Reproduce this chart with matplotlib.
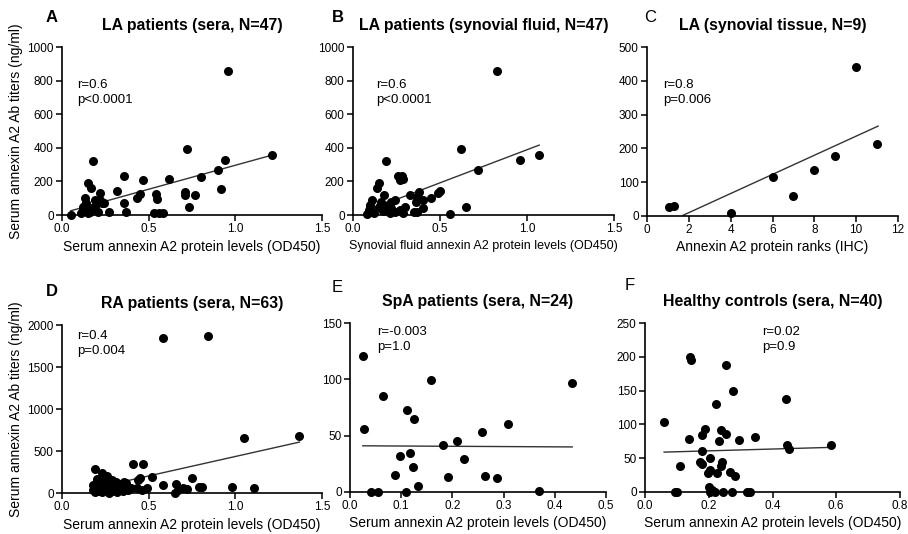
import numpy as np
import matplotlib
matplotlib.use("Agg")
import matplotlib.pyplot as plt

plt.rcParams['font.family'] = ['Liberation Sans', 'DejaVu Sans']

# ---- data ----
# A: LA patients, sera
a_x = [0.05, 0.11, 0.12, 0.12, 0.13, 0.13, 0.14, 0.14, 0.15, 0.15, 0.16, 0.17,
       0.18, 0.18, 0.19, 0.19, 0.20, 0.21, 0.22, 0.22, 0.23, 0.24, 0.27, 0.32,
       0.36, 0.36, 0.37, 0.43, 0.45, 0.47, 0.53, 0.54, 0.55, 0.56, 0.58, 0.62,
       0.71, 0.71, 0.72, 0.73, 0.77, 0.80, 0.90, 0.92, 0.94, 0.96, 1.21]
a_y = [0, 10, 50, 30, 99, 60, 70, 40, 192, 10, 20, 162,
       323, 40, 89, 55, 70, 20, 129, 90, 69, 73, 20, 145,
       234, 73, 18, 103, 123, 208, 14, 123, 95, 14, 14, 214,
       139, 119, 390, 46, 119, 228, 267, 154, 327, 855, 356]
a_fit_x = [0.05, 1.21]
a_fit_y = [25, 356]

# B: LA patients, synovial fluid
b_x = [0.08, 0.09, 0.09, 0.10, 0.10, 0.11, 0.11, 0.12, 0.14, 0.15, 0.15, 0.16,
       0.17, 0.18, 0.19, 0.19, 0.20, 0.21, 0.22, 0.22, 0.24, 0.24, 0.26, 0.27,
       0.28, 0.29, 0.27, 0.29, 0.30, 0.33, 0.35, 0.36, 0.37, 0.37, 0.38, 0.40,
       0.45, 0.49, 0.50, 0.56, 0.62, 0.65, 0.72, 0.83, 0.96, 1.07, 0.40]
b_y = [5, 30, 15, 60, 40, 89, 20, 10, 159, 188, 45, 78,
       25, 119, 321, 30, 60, 10, 78, 40, 20, 90, 230, 210,
       235, 215, 30, 10, 50, 119, 20, 78, 105, 20, 139, 90,
       99, 129, 140, 6, 390, 46, 267, 857, 327, 356, 40]
b_fit_x = [0.08, 1.07]
b_fit_y = [26, 416]

# C: LA synovial tissue
c_x = [1.05, 1.3, 4.0, 6.0, 7.0, 8.0, 9.0, 10.0, 11.0]
c_y = [28, 30, 8, 116, 60, 136, 178, 441, 213]
c_fit_x = [1.72, 11.05]
c_fit_y = [2, 266]

# D: RA patients, sera
d_x = [0.58, 0.84, 1.37, 1.05, 0.98, 1.11, 0.75, 0.79, 0.81, 0.72, 0.66, 0.67,
       0.65, 0.70, 0.58, 0.52, 0.47, 0.41, 0.45, 0.44, 0.49, 0.43, 0.46, 0.40,
       0.18, 0.18, 0.19, 0.19, 0.20, 0.20, 0.21, 0.21, 0.22, 0.22, 0.23, 0.23,
       0.24, 0.24, 0.25, 0.25, 0.26, 0.26, 0.27, 0.27, 0.28, 0.28, 0.29, 0.29,
       0.30, 0.30, 0.31, 0.31, 0.32, 0.32, 0.33, 0.33, 0.34, 0.35, 0.36, 0.37,
       0.38, 0.36, 0.20]
d_y = [1849, 1869, 681, 653, 67, 59, 175, 70, 67, 48, 110, 40,
       0, 60, 92, 190, 344, 344, 175, 150, 59, 55, 30, 60,
       40, 100, 290, 10, 60, 130, 20, 80, 45, 110, 238, 10,
       70, 140, 30, 95, 200, 50, 120, 5, 80, 40, 150, 20,
       100, 60, 30, 130, 75, 10, 50, 110, 90, 25, 60, 120,
       40, 130, 170]
d_fit_x = [0.18, 1.37]
d_fit_y = [55, 606]

# E: SpA patients, sera
e_x = [0.025, 0.028, 0.041, 0.055, 0.064, 0.087, 0.097, 0.109, 0.112, 0.117,
       0.124, 0.125, 0.132, 0.158, 0.182, 0.191, 0.209, 0.222, 0.257, 0.263,
       0.288, 0.309, 0.370, 0.434]
e_y = [121, 56, 0, 0, 85, 15, 32, 0, 73, 35,
       22, 65, 5, 99, 42, 13, 45, 29, 53, 14,
       12, 60, 1, 97]
e_fit_x = [0.025, 0.434]
e_fit_y = [41, 40]

# F: Healthy controls, sera
f_x = [0.060, 0.140, 0.144, 0.253, 0.277, 0.224, 0.442, 0.345, 0.295, 0.137,
       0.187, 0.179, 0.239, 0.253, 0.232, 0.179, 0.111, 0.174, 0.179, 0.205,
       0.242, 0.237, 0.197, 0.205, 0.226, 0.268, 0.281, 0.200, 0.210, 0.095,
       0.100, 0.205, 0.221, 0.244, 0.272, 0.321, 0.328, 0.444, 0.451, 0.582]
f_y = [104, 200, 196, 188, 149, 130, 137, 81, 77, 79,
       93, 84, 92, 86, 75, 60, 39, 45, 42, 50,
       44, 38, 28, 33, 28, 29, 23, 8, 3, 0,
       0, 0, 0, 0, 0, 0, 0, 70, 63, 69]
f_fit_x = [0.06, 0.582]
f_fit_y = [59, 66]

sera_x = "Serum annexin A2 protein levels (OD450)"
titer_y = "Serum annexin A2 Ab titers (ng/ml)"

panels = [
    dict(letter="A", lbold=True, title="LA patients (sera, N=47)", x=a_x, y=a_y,
         fx=a_fit_x, fy=a_fit_y, xt=[0, 0.5, 1.0, 1.5], xfmt="{:.1f}",
         yt=[0, 200, 400, 600, 800, 1000], xl=sera_x, xls=10, yl=titer_y,
         stats="r=0.6\np<0.0001", spos=(0.058, 0.81),
         rect=[62, 47, 322, 215], lpos=(52, 17)),
    dict(letter="B", lbold=True, title="LA patients (synovial fluid, N=47)", x=b_x, y=b_y,
         fx=b_fit_x, fy=b_fit_y, xt=[0, 0.5, 1.0, 1.5], xfmt="{:.1f}",
         yt=[0, 200, 400, 600, 800, 1000],
         xl="Synovial fluid annexin A2 protein levels (OD450)", xls=9, yl=None,
         stats="r=0.6\np<0.0001", spos=(0.088, 0.81),
         rect=[353, 47, 614, 215], lpos=(338, 17)),
    dict(letter="C", lbold=False, title="LA (synovial tissue, N=9)", x=c_x, y=c_y,
         fx=c_fit_x, fy=c_fit_y, xt=[0, 2, 4, 6, 8, 10, 12], xfmt="{:d}",
         yt=[0, 100, 200, 300, 400, 500],
         xl="Annexin A2 protein ranks (IHC)", xls=10, yl=None,
         stats="r=0.8\np=0.006", spos=(0.064, 0.81),
         rect=[647, 47, 898, 216], lpos=(650, 17)),
    dict(letter="D", lbold=True, title="RA patients (sera, N=63)", x=d_x, y=d_y,
         fx=d_fit_x, fy=d_fit_y, xt=[0, 0.5, 1.0, 1.5], xfmt="{:.1f}",
         yt=[0, 500, 1000, 1500, 2000], xl=sera_x, xls=10, yl=titer_y,
         stats="r=0.4\np=0.004", spos=(0.058, 0.97),
         rect=[62, 325, 322, 493], lpos=(52, 292)),
    dict(letter="E", lbold=False, title="SpA patients (sera, N=24)", x=e_x, y=e_y,
         fx=e_fit_x, fy=e_fit_y, xt=[0, 0.1, 0.2, 0.3, 0.4, 0.5], xfmt="{:.1f}",
         yt=[0, 50, 100, 150], xl=sera_x, xls=10, yl=None,
         stats="r=-0.003\np=1.0", spos=(0.105, 0.98),
         rect=[350, 323, 606, 492], lpos=(337, 287)),
    dict(letter="F", lbold=False, title="Healthy controls (sera, N=40)", x=f_x, y=f_y,
         fx=f_fit_x, fy=f_fit_y, xt=[0, 0.2, 0.4, 0.6, 0.8], xfmt="{:.1f}",
         yt=[0, 50, 100, 150, 200, 250], xl=sera_x, xls=10, yl=None,
         stats="r=0.02\np=0.9", spos=(0.46, 0.98),
         rect=[645, 323, 900, 492], lpos=(630, 286)),
]

W, H = 908, 534
fig = plt.figure(figsize=(W / 100, H / 100), dpi=100)

for p in panels:
    x0, y0, x1, y1 = p["rect"]
    ax = fig.add_axes([x0 / W, 1 - y1 / H, (x1 - x0) / W, (y1 - y0) / H])
    ax.scatter(p["x"], p["y"], s=30, color="black", zorder=3, clip_on=False)
    ax.plot(p["fx"], p["fy"], color="#333333", lw=1.0, zorder=2)
    ax.set_xlim(p["xt"][0], p["xt"][-1])
    ax.set_ylim(p["yt"][0], p["yt"][-1])
    ax.set_xticks(p["xt"])
    ax.set_xticklabels([p["xfmt"].format(v) for v in p["xt"]])
    ax.set_yticks(p["yt"])
    for s in ["top", "right"]:
        ax.spines[s].set_visible(False)
    for s in ["left", "bottom"]:
        ax.spines[s].set_linewidth(1.2)
    ax.tick_params(direction="out", length=4, width=1.1, labelsize=8.5, pad=2,
                   colors="black")
    ax.set_xlabel(p["xl"], fontsize=p["xls"], labelpad=3)
    if p["yl"]:
        ax.set_ylabel(p["yl"], fontsize=10, labelpad=3)
    ax.set_title(p["title"], fontsize=11.4, fontweight="bold", pad=12)
    ax.text(p["spos"][0], p["spos"][1], p["stats"], transform=ax.transAxes,
            ha="left", va="top", fontsize=9.5, linespacing=1.3)
    fig.text(p["lpos"][0] / W, 1 - p["lpos"][1] / H, p["letter"], fontsize=12,
             fontweight="bold" if p["lbold"] else "normal", ha="center", va="center")

fig.savefig("out.png", dpi=100)
